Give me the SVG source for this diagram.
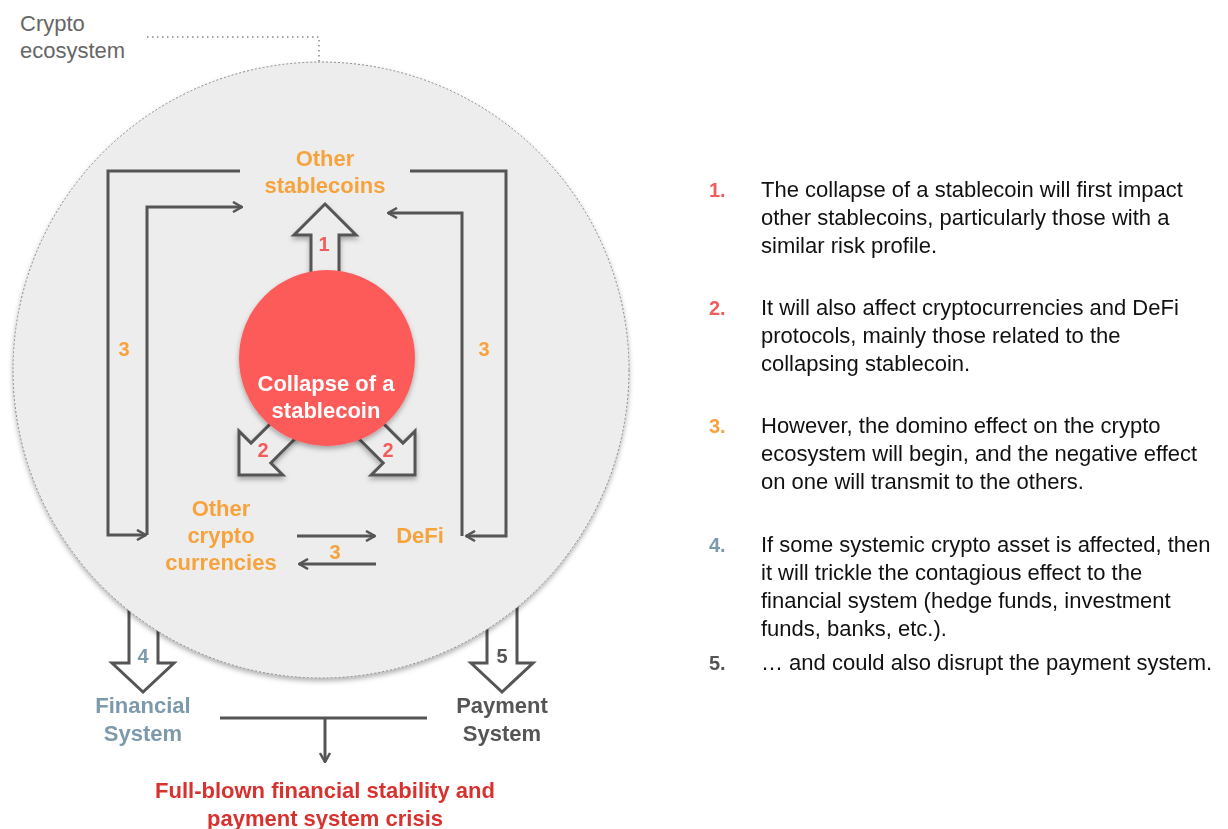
<svg xmlns="http://www.w3.org/2000/svg" width="1228" height="829" viewBox="0 0 1228 829">
<style>
  text { font-family: "Liberation Sans", Arial, sans-serif; }
  .lbl { font-size: 22px; font-weight: bold; text-anchor: middle; }
  .orange { fill: #F7A33D; }
  .num { font-size: 20px; font-weight: bold; text-anchor: middle; }
  .conn { fill: none; stroke: #555; stroke-width: 3; }
  .blk { fill: none; stroke: #555; stroke-width: 3; stroke-linejoin: miter; }
  .body { font-size: 22px; fill: #111; }
  .bn { font-size: 20px; font-weight: bold; }
</style>
<defs>
  <marker id="ah" viewBox="0 0 12 12" markerWidth="12" markerHeight="12" refX="11" refY="6" orient="auto" markerUnits="userSpaceOnUse">
    <path d="M2,1 L11,6 L2,11" fill="none" stroke="#555" stroke-width="2.5"/>
  </marker>
  <filter id="sh" x="-20%" y="-20%" width="140%" height="140%">
    <feDropShadow dx="0" dy="3" stdDeviation="2.5" flood-color="#000" flood-opacity="0.3"/>
  </filter>
  <path id="blockArrow" d="M0,0 L31,31 L14,31 L14,100 L-14,100 L-14,31 L-31,31 Z"/>
</defs>

<rect width="1228" height="829" fill="#fff"/>

<g id="label-crypto-ecosystem">
  <text x="20" y="31" font-size="22" fill="#666">Crypto</text>
  <text x="20" y="58" font-size="22" fill="#666">ecosystem</text>
  <path d="M147,37 H319 V62" fill="none" stroke="#888" stroke-width="1.5" stroke-dasharray="1.5 3.5"/>
</g>

<!-- arrows 4 and 5 (under ecosystem circle) -->
<g id="arrow-4">
  <polyline class="blk" points="129,590 129,663 112,663 143,692 174,663 158,663 158,590"/>
</g>
<g id="arrow-5">
  <polyline class="blk" points="487,590 487,663 471,663 502,692 533,663 517,663 517,590"/>
</g>

<g id="ecosystem-circle">
  <circle cx="321" cy="370" r="308" fill="#EDEDED" stroke="#888" stroke-width="1" stroke-dasharray="2 2" filter="url(#sh)"/>
</g>

<g id="arrows-1-2" filter="url(#sh)">
  <use href="#blockArrow" transform="translate(325,204)" fill="#EDEDED" stroke="#555" stroke-width="3"/>
  <use href="#blockArrow" transform="translate(239,475) rotate(-135)" fill="#EDEDED" stroke="#555" stroke-width="3"/>
  <use href="#blockArrow" transform="translate(415,475) rotate(135)" fill="#EDEDED" stroke="#555" stroke-width="3"/>
</g>

<g id="node-collapse">
  <circle cx="327" cy="358" r="88" fill="#FD5A5A" filter="url(#sh)"/>
  <text class="lbl" x="326" y="391" fill="#fff">Collapse of a</text>
  <text class="lbl" x="326" y="418" fill="#fff">stablecoin</text>
</g>

<g id="arrow-labels">
  <text class="num" x="324" y="251" fill="#F25C5C">1</text>
  <text class="num" x="263" y="457" fill="#F25C5C">2</text>
  <text class="num" x="388" y="457" fill="#F25C5C">2</text>
  <text class="num" x="124" y="356" fill="#F7A33D">3</text>
  <text class="num" x="484" y="356" fill="#F7A33D">3</text>
  <text class="num" x="335" y="559" fill="#F7A33D">3</text>
  <text class="num" x="143" y="663" fill="#7C9AAB">4</text>
  <text class="num" x="502" y="663" fill="#555">5</text>
</g>

<g id="connectors">
  <path class="conn" d="M240,171 H108 V535 H146" marker-end="url(#ah)"/>
  <path class="conn" d="M147,535 V207 H242" marker-end="url(#ah)"/>
  <path class="conn" d="M410,171 H506 V536 H466" marker-end="url(#ah)"/>
  <path class="conn" d="M462,536 V213 H388" marker-end="url(#ah)"/>
  <path class="conn" d="M297,536 H375" marker-end="url(#ah)"/>
  <path class="conn" d="M376,564 H299" marker-end="url(#ah)"/>
  <path class="conn" d="M220,718 H427"/>
  <path class="conn" d="M325,718 V762" marker-end="url(#ah)"/>
</g>

<g id="node-other-stablecoins">
  <text class="lbl orange" x="325" y="166">Other</text>
  <text class="lbl orange" x="325" y="193">stablecoins</text>
</g>
<g id="node-other-crypto">
  <text class="lbl orange" x="221" y="516">Other</text>
  <text class="lbl orange" x="221" y="543">crypto</text>
  <text class="lbl orange" x="221" y="570">currencies</text>
</g>
<g id="node-defi">
  <text class="lbl orange" x="420" y="543">DeFi</text>
</g>
<g id="node-financial-system">
  <text class="lbl" x="143" y="713" fill="#7C9AAB">Financial</text>
  <text class="lbl" x="143" y="741" fill="#7C9AAB">System</text>
</g>
<g id="node-payment-system">
  <text class="lbl" x="502" y="713" fill="#555">Payment</text>
  <text class="lbl" x="502" y="741" fill="#555">System</text>
</g>
<g id="node-crisis">
  <text class="lbl" x="325" y="798" fill="#D8322F">Full-blown financial stability and</text>
  <text class="lbl" x="325" y="826" fill="#D8322F">payment system crisis</text>
</g>

<g id="legend">
  <text class="bn" x="709" y="197" fill="#F25C5C">1.</text>
  <text class="body" x="761" y="197">The collapse of a stablecoin will first impact</text>
  <text class="body" x="761" y="225">other stablecoins, particularly those with a</text>
  <text class="body" x="761" y="253">similar risk profile.</text>

  <text class="bn" x="709" y="315" fill="#F25C5C">2.</text>
  <text class="body" x="761" y="315">It will also affect cryptocurrencies and DeFi</text>
  <text class="body" x="761" y="343">protocols, mainly those related to the</text>
  <text class="body" x="761" y="371">collapsing stablecoin.</text>

  <text class="bn" x="709" y="433" fill="#F7A33D">3.</text>
  <text class="body" x="761" y="433">However, the domino effect on the crypto</text>
  <text class="body" x="761" y="461">ecosystem will begin, and the negative effect</text>
  <text class="body" x="761" y="489">on one will transmit to the others.</text>

  <text class="bn" x="709" y="552" fill="#7C9AAB">4.</text>
  <text class="body" x="761" y="552">If some systemic crypto asset is affected, then</text>
  <text class="body" x="761" y="580">it will trickle the contagious effect to the</text>
  <text class="body" x="761" y="608">financial system (hedge funds, investment</text>
  <text class="body" x="761" y="636">funds, banks, etc.).</text>

  <text class="bn" x="709" y="670" fill="#555">5.</text>
  <text class="body" x="761" y="670">… and could also disrupt the payment system.</text>
</g>
</svg>
